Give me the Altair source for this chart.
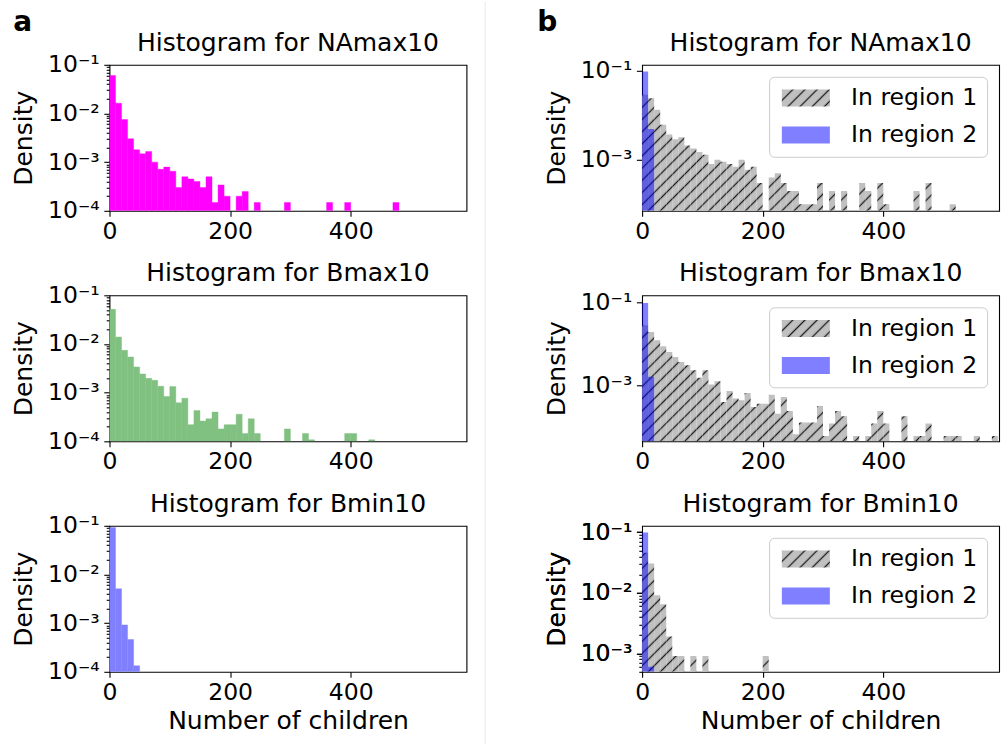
import math
import altair as alt
import pandas as pd
import jinja2

# ---------------- data ----------------
BIN_WIDTH = 10
X_TICKS = [0, 200, 400]
X_MAX = 592
REGIONS = ["In region 1", "In region 2"]
PANEL_LABELS = ["a", "b"]
TITLES = ["Histogram for NAmax10", "Histogram for Bmax10", "Histogram for Bmin10"]

# left column: density per 10-wide bin (0 = empty bin)
left_namax10 = [0.0604, 0.0163, 0.00753, 0.00302, 0.00179, 0.00148, 0.00166, 0.00100,
                0.00071, 0.00079, 0.00065, 0.00030, 0.00050, 0.00045, 0.00040, 0.00030,
                0.00050, 0.000148, 0.00034, 0.00020, 0, 0.00020, 0.00025, 0,
                0.000148, 0, 0, 0, 0, 0.000148, 0, 0,
                0, 0, 0, 0, 0.000148, 0, 0, 0.000148,
                0, 0, 0, 0, 0, 0, 0, 0.000148]
left_bmax10 = [0.0515, 0.0139, 0.0074, 0.0054, 0.00337, 0.00242, 0.00197, 0.00179,
               0.00135, 0.00083, 0.00133, 0.00062, 0.00077, 0.00022, 0.00043, 0.00026,
               0.00029, 0.00040, 0.00018, 0.00022, 0.00022, 0.00036, 0.000145, 0.00029,
               0.000145, 0, 0, 0, 0, 0.00018, 0, 0,
               0.000145, 0.000107, 0, 0, 0, 0, 0, 0.000145,
               0.000145, 0, 0, 0.000107]
left_bmin10 = [0.0925, 0.00507, 0.00092, 0.00046, 0.000133]

# right column: region 1 (hatched) and region 2 (blue)
r1_namax10 = [0.0288, 0.0243, 0.0133, 0.0061, 0.0037, 0.0029, 0.0032, 0.0021,
              0.0018, 0.0015, 0.0013, 0.0008, 0.0010, 0.0009, 0.0008, 0.0007,
              0.0010, 0.0006, 0.0007, 0.0003, 0, 0.0004, 0.0005, 0.0003,
              0.0002, 0.0002, 0.0001, 0.0001, 0.0001, 0.0003, 0, 0.0002,
              0, 0.0002, 0, 0, 0.0003, 0.0002, 0, 0.0003,
              0.0001, 0, 0, 0, 0, 0.0002, 0, 0.0003,
              0, 0, 0, 0.0001]
r2_namax10 = [0.0966, 0.0049]
r1_bmax10 = [0.0283, 0.0195, 0.0123, 0.0088, 0.0064, 0.00485, 0.00367, 0.00305,
             0.00231, 0.00153, 0.00231, 0.00104, 0.00125, 0.000395, 0.00073, 0.00048,
             0.000434, 0.00065, 0.00030, 0.00036, 0.00036, 0.00059, 0.000206, 0.00052,
             0.00024, 0.000065, 0.000126, 0.000126, 0.000126, 0.000316, 0.0000594, 0.000119,
             0.000238, 0.000178, 0, 0.0000594, 0, 0.0000594, 0.000119, 0.000238,
             0.000119, 0, 0, 0.000178, 0, 0.0000594, 0.0000594, 0.000119,
             0, 0, 0.0000594, 0.0000594, 0.0000594, 0, 0, 0.0000594,
             0, 0, 0.0000594]
r2_bmax10 = [0.098, 0.0016]
r1_bmin10 = [0.046, 0.0305, 0.0091, 0.0065, 0.0019, 0.00091, 0.00091, 0,
             0.00091, 0, 0.00091, 0, 0, 0, 0, 0,
             0, 0, 0, 0, 0.00091]
r2_bmin10 = [0.099, 0.0006]

# ---------------- styling ----------------
FONT = "DejaVu Sans"
W, H = 357, 146
TICK_FS = 23.5
LABEL_FS = 25
TITLE_FS = 25
TITLE_BASE = -9.3          # wanted title baseline relative to plot top
MAGENTA = "#ff00ff"
GREEN = "#80c080"
LIGHTBLUE = "#8080ff"
HATCH = "url(#hatch)"
BLUE_ALPHA = "rgba(0,0,255,0.5)"

DOM_LEFT = [1e-4, 1e-1]
DOM_R_NA = [7.14e-5, 0.1365]
DOM_R_B = [4.41e-5, 0.151]
DOM_R_BMIN = [4.97e-4, 0.1276]

LABEL_EXPR = ("datum.value > 0.05 ? '10⁻¹' : datum.value > 0.005 ? '10⁻²' : "
              "datum.value > 0.0005 ? '10⁻³' : '10⁻⁴'")


def to_df(values, region=None):
    rows = [{"start": i * BIN_WIDTH, "end": (i + 1) * BIN_WIDTH, "density": v, "region": region}
            for i, v in enumerate(values) if v > 0]
    return pd.DataFrame(rows)


def minors(dom):
    out = []
    for e in range(-5, 0):
        for k in range(2, 10):
            v = k * 10 ** e
            if dom[0] <= v <= dom[1]:
                out.append(v)
    return out


def title_offset(dom):
    # title baseline = (top of the view's bounds) - offset
    lo, hi = math.log10(dom[0]), math.log10(dom[1])
    ly = (hi + 1) / (hi - lo) * H
    top = min(ly - 12, 0)
    return top - TITLE_BASE


def x_enc(bottom):
    return alt.X("start:Q",
                 scale=alt.Scale(domain=[0, X_MAX], nice=False, zero=False),
                 axis=alt.Axis(values=X_TICKS, labelFlush=False, tickSize=5.5, labelPadding=3,
                               title="Number of children" if bottom else None,
                               titleY=57, titleBaseline="alphabetic"))


def y_scale(dom):
    return alt.Scale(type="log", domain=dom, nice=False)


def major_axis(majors):
    return alt.Axis(values=majors, labelExpr=LABEL_EXPR, tickSize=5.7, labelPadding=4.5,
                    title="Density", titleX=-77.8, titleBaseline="alphabetic", orient="left")


def minor_layer(df, dom, bottom):
    return alt.Chart(df).mark_bar(opacity=0).encode(
        x=x_enc(bottom), x2="end",
        y=alt.Y("density:Q", scale=y_scale(dom),
                axis=alt.Axis(values=minors(dom), labels=False, tickSize=3.3, title=None,
                              orient="left")),
        y2=alt.datum(dom[0]))


def left_panel(values, color, title, bottom):
    df = to_df(values)
    bars = alt.Chart(df).mark_bar(color=color, stroke=color, strokeWidth=0.4, clip=True).encode(
        x=x_enc(bottom), x2="end",
        y=alt.Y("density:Q", scale=y_scale(DOM_LEFT), axis=major_axis([1e-4, 1e-3, 1e-2, 1e-1])),
        y2=alt.datum(DOM_LEFT[0]))
    return alt.layer(bars, minor_layer(df, DOM_LEFT, bottom)).resolve_axis(y="independent").properties(
        width=W, height=H, title=alt.TitleParams(title, offset=title_offset(DOM_LEFT)))


LEGEND = alt.Legend(title=None, orient="top-right", offset=12, labelFontSize=TICK_FS, labelFont=FONT,
                    labelColor="black", symbolType="M-1,-1H4.648V1H-1Z", symbolSize=289,
                    symbolStrokeWidth=0, labelOffset=49, padding=9.5, rowPadding=12,
                    cornerRadius=5, strokeColor="#cccccc", fillColor="rgba(255,255,255,0.8)")


def right_panel(v1, v2, dom, majors, with_minor, title, bottom):
    d1 = to_df(v1, REGIONS[0])
    d2 = to_df(v2, REGIONS[1])
    color = alt.Color("region:N", scale=alt.Scale(domain=REGIONS, range=[HATCH, BLUE_ALPHA]),
                      legend=LEGEND)
    yenc = alt.Y("density:Q", scale=y_scale(dom), axis=major_axis(majors))
    b1 = alt.Chart(d1).mark_bar(clip=True).encode(x=x_enc(bottom), x2="end", y=yenc,
                                                  y2=alt.datum(dom[0]), color=color)
    b2 = alt.Chart(d2).mark_bar(clip=True).encode(x=x_enc(bottom), x2="end", y=yenc,
                                                  y2=alt.datum(dom[0]), color=color)
    layers = [b1, b2]
    if with_minor:
        layers.append(minor_layer(d1, dom, bottom))
    ch = alt.layer(*layers)
    if with_minor:
        ch = ch.resolve_axis(y="independent")
    return ch.properties(width=W, height=H, title=alt.TitleParams(title, offset=title_offset(dom)))


panels = [
    left_panel(left_namax10, MAGENTA, TITLES[0], False),
    right_panel(r1_namax10, r2_namax10, DOM_R_NA, [1e-3, 1e-1], False, TITLES[0], False),
    left_panel(left_bmax10, GREEN, TITLES[1], False),
    right_panel(r1_bmax10, r2_bmax10, DOM_R_B, [1e-3, 1e-1], False, TITLES[1], False),
    left_panel(left_bmin10, LIGHTBLUE, TITLES[2], True),
    right_panel(r1_bmin10, r2_bmin10, DOM_R_BMIN, [1e-3, 1e-2, 1e-1], True, TITLES[2], True),
]

body = alt.concat(*panels, columns=2, spacing=alt.RowColnumber(row=84.5, column=175.6),
                  bounds="flush").resolve_scale(color="independent").resolve_legend(color="independent")

# header: panel letters and the thin separator between the two columns
letters = alt.Chart(pd.DataFrame({"label": PANEL_LABELS})).mark_text(
    fontSize=28, fontWeight="bold", align="left", baseline="alphabetic", font=FONT, color="black"
).encode(x=alt.X("label:N", scale=alt.Scale(type="point", range=[-96.3, 427.7], padding=0), axis=None),
         y=alt.value(28.5), text="label:N")
sep = alt.Chart(pd.DataFrame({"sep": [0]})).mark_rule(color="#e8e8e8", strokeWidth=1).encode(
    x=alt.value(375.7), y=alt.value(0), y2=alt.value(744))
header = alt.layer(sep, letters).properties(width=2 * W + 175.6, height=1,
                                            view=alt.ViewBackground(stroke="transparent"))

chart = alt.vconcat(header, body, spacing=61.8, bounds="flush").resolve_scale(
    color="independent").resolve_legend(color="independent").properties(
    padding={"left": 10.5, "top": 0, "right": 0, "bottom": 0}
).configure(font=FONT).configure_view(stroke="black", strokeWidth=1.1).configure_axis(
    labelFont=FONT, labelFontSize=TICK_FS, labelColor="black", tickColor="black", tickWidth=1.1,
    domain=False, grid=False, titleFont=FONT, titleFontSize=LABEL_FS, titleFontWeight="normal",
    titleColor="black"
).configure_title(font=FONT, fontSize=TITLE_FS, fontWeight="normal", color="black",
                  anchor="middle", frame="group", baseline="alphabetic")

TEMPLATE = jinja2.Template("""<!DOCTYPE html>
<html>
<head>
  <meta charset="utf-8">
  <style>
    body { margin: 0; }
    #{{ output_div }}.vega-embed { width: 100%; display: flex; }
    #{{ output_div }}.vega-embed details,
    #{{ output_div }}.vega-embed details summary { position: relative; }
  </style>
  <script type="text/javascript" src="{{ base_url }}/vega@{{ vega_version }}"></script>
  <script type="text/javascript" src="{{ base_url }}/vega-lite@{{ vegalite_version }}"></script>
  <script type="text/javascript" src="{{ base_url }}/vega-embed@{{ vegaembed_version }}"></script>
</head>
<body>
  <svg width="0" height="0" style="position:absolute;left:0;top:0" aria-hidden="true">
    <defs>
      <pattern id="hatch" patternUnits="userSpaceOnUse" width="8.6" height="8.6" patternTransform="rotate(45)">
        <rect x="0" y="0" width="8.6" height="8.6" fill="#c0c0c0"></rect>
        <line x1="4.3" y1="-1" x2="4.3" y2="9.6" stroke="#1a1a1a" stroke-width="1.3"></line>
      </pattern>
    </defs>
  </svg>
  <div id="{{ output_div }}"></div>
  <script>
    (function(vegaEmbed) {
      var spec = {{ spec }};
      var embedOpt = {{ embed_options }};
      function showError(el, error){
        el.innerHTML = ('<div style="color:red;"><p>JavaScript Error: ' + error.message + '</p></div>');
        throw error;
      }
      const el = document.getElementById('{{ output_div }}');
      vegaEmbed("#{{ output_div }}", spec, embedOpt).catch(error => showError(el, error));
    })(vegaEmbed);
  </script>
</body>
</html>
""")

chart.save("out.html", embed_options={"renderer": "svg", "actions": False}, template=TEMPLATE)
